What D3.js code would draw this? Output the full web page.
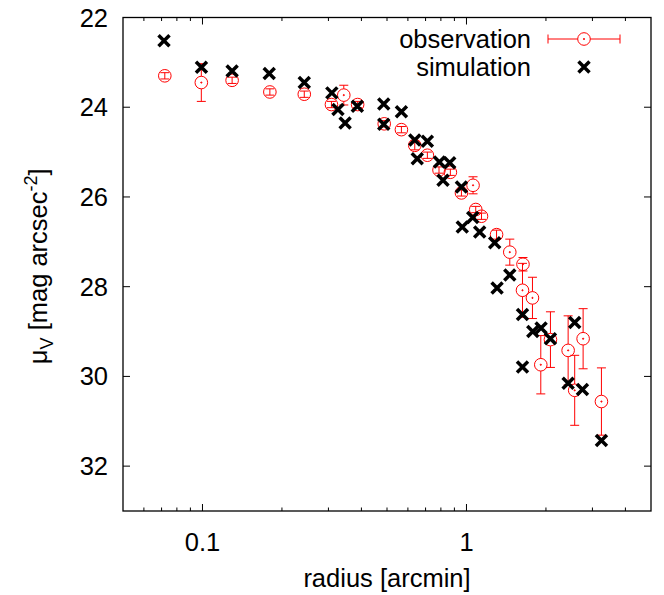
<!DOCTYPE html>
<html lang="en">
<head>
    <meta charset="UTF-8">
    <title>surface brightness profile</title>
    <script src="https://cdn.jsdelivr.net/npm/d3@7/dist/d3.min.js"></script>
    <style>
        body { margin: 0; background: #fff; }
        svg { font-family: "Liberation Sans", Arial, sans-serif; }
        .frame { fill: none; stroke: #000; stroke-width: 1.3px; }
        .tick { stroke: #000; stroke-width: 1px; }
        .label { font-size: 25.5px; fill: #000; }
    </style>
</head>
<body>
<script>
    // canvas size
    const width = 664;
    const height = 595;
    const margin = { left: 123, right: 13, top: 17.5, bottom: 84 };

    // observation: radius [arcmin], mu_V, error
    const obsRadius = [0.072, 0.099, 0.1295, 0.180, 0.243, 0.308, 0.343, 0.387, 0.488, 0.567,
        0.637, 0.711, 0.787, 0.869, 0.957, 1.059, 1.084, 1.14, 1.30, 1.459,
        1.637, 1.63, 1.778, 1.912, 2.08, 2.427, 2.57, 2.766, 3.245];
    const obsMu = [23.30, 23.45, 23.40, 23.66, 23.71, 23.94, 23.73, 23.94, 24.37, 24.50,
        24.85, 25.07, 25.40, 25.45, 25.91, 25.74, 26.28, 26.43, 26.84, 27.23,
        27.50, 28.08, 28.25, 29.74, 29.18, 29.42, 30.31, 29.16, 30.56];
    const obsErr = [0.07, 0.42, 0.07, 0.07, 0.07, 0.07, 0.22, 0.07, 0.07, 0.07,
        0.1, 0.07, 0.07, 0.07, 0.07, 0.19, 0.07, 0.07, 0.1, 0.29,
        0.15, 0.6, 0.46, 0.65, 0.62, 0.77, 0.78, 0.67, 0.75];

    // simulation
    const simRadius = [0.0715, 0.0991, 0.1295, 0.179, 0.243, 0.309, 0.326, 0.347, 0.386, 0.486,
        0.486, 0.567, 0.637, 0.651, 0.711, 0.790, 0.864, 0.815, 0.957, 0.964,
        1.056, 1.122, 1.279, 1.459, 1.306, 1.63, 1.783, 1.917, 2.08, 1.63,
        2.57, 2.427, 2.75, 3.245];
    const simMu = [22.52, 23.11, 23.19, 23.25, 23.45, 23.68, 24.05, 24.35, 23.98, 23.93,
        24.38, 24.10, 24.73, 25.15, 24.76, 25.22, 25.24, 25.63, 25.78, 26.67,
        26.46, 26.78, 27.02, 27.74, 28.03, 28.62, 29.00, 28.92, 29.16, 29.79,
        28.80, 30.15, 30.29, 31.43];

    const xMajor = [0.1, 1];
    const xMinor = [0.06, 0.07, 0.08, 0.09, 0.2, 0.3, 0.4, 0.5, 0.6, 0.7, 0.8, 0.9, 2, 3, 4];
    const yTicks = [22, 24, 26, 28, 30, 32];

    let svg = d3.select('body')
        .append('svg')
        .attr('width', width)
        .attr('height', height);

    const x0 = margin.left, x1 = width - margin.right;
    const y0 = margin.top, y1 = height - margin.bottom;

    const x = d3.scaleLog().domain([0.05, 5]).range([x0, x1]);
    const y = d3.scaleLinear().domain([22, 33]).range([y0, y1]);

    // frame
    svg.append('rect').attr('class', 'frame')
        .attr('x', x0).attr('y', y0)
        .attr('width', x1 - x0).attr('height', y1 - y0);

    // ticks on all four sides (inward)
    let ticks = svg.append('g');
    function xTick (v, len) {
        ticks.append('line').attr('class', 'tick')
            .attr('x1', x(v)).attr('x2', x(v)).attr('y1', y1).attr('y2', y1 - len);
        ticks.append('line').attr('class', 'tick')
            .attr('x1', x(v)).attr('x2', x(v)).attr('y1', y0).attr('y2', y0 + len);
    }
    xMajor.forEach(v => xTick(v, 7));
    xMinor.forEach(v => xTick(v, 3.5));
    yTicks.forEach(v => {
        ticks.append('line').attr('class', 'tick')
            .attr('x1', x0).attr('x2', x0 + 7).attr('y1', y(v)).attr('y2', y(v));
        ticks.append('line').attr('class', 'tick')
            .attr('x1', x1).attr('x2', x1 - 7).attr('y1', y(v)).attr('y2', y(v));
    });

    // tick labels
    svg.append('g').selectAll('text')
        .data(yTicks).enter().append('text')
        .attr('class', 'label')
        .attr('x', x0 - 15).attr('y', d => y(d) + 9)
        .attr('text-anchor', 'end')
        .text(d => d);
    svg.append('g').selectAll('text')
        .data(xMajor).enter().append('text')
        .attr('class', 'label')
        .attr('x', d => x(d)).attr('y', y1 + 40)
        .attr('text-anchor', 'middle')
        .text(d => d);

    // axis titles
    svg.append('text').attr('class', 'label')
        .attr('x', (x0 + x1) / 2).attr('y', 587)
        .attr('text-anchor', 'middle')
        .text('radius [arcmin]');

    let yl = svg.append('text').attr('class', 'label')
        .attr('transform', 'translate(47,' + ((y0 + y1) / 2 + 2) + ') rotate(-90)')
        .attr('text-anchor', 'middle');
    yl.append('tspan').text('\u03bc');
    yl.append('tspan').attr('font-size', '18px').attr('dy', 6).text('V');
    yl.append('tspan').attr('dy', -6).text(' [mag arcsec');
    yl.append('tspan').attr('font-size', '18px').attr('dy', -10).text('-2');
    yl.append('tspan').attr('dy', 10).text(']');

    const red = '#f00';
    const r = 6.3;
    const cap = 4.5;

    // error bars + circles
    const obs = obsRadius.map((d, i) => ({ r: d, mu: obsMu[i], err: obsErr[i] }));
    let eb = svg.append('g').attr('stroke', red).attr('stroke-width', 1).attr('fill', 'none');
    obs.forEach(d => {
        const cx = x(d.r), cy = y(d.mu);
        const top = y(d.mu - d.err), bot = y(d.mu + d.err);
        if (cy - top > r) {
            eb.append('line').attr('x1', cx).attr('x2', cx).attr('y1', top).attr('y2', cy - r);
            eb.append('line').attr('x1', cx).attr('x2', cx).attr('y1', cy + r).attr('y2', bot);
            eb.append('circle').attr('cx', cx).attr('cy', cy).attr('r', 0.6).attr('fill', red);
        } else {
            eb.append('line').attr('x1', cx).attr('x2', cx).attr('y1', top).attr('y2', bot);
        }
        eb.append('line').attr('x1', cx - cap).attr('x2', cx + cap).attr('y1', top).attr('y2', top);
        eb.append('line').attr('x1', cx - cap).attr('x2', cx + cap).attr('y1', bot).attr('y2', bot);
        eb.append('circle').attr('cx', cx).attr('cy', cy).attr('r', r);
    });

    // simulation crosses
    const s = 5.5;
    function cross (g, cx, cy) {
        g.append('path')
            .attr('d', 'M' + (cx - s) + ',' + (cy - s) + 'L' + (cx + s) + ',' + (cy + s) +
                'M' + (cx - s) + ',' + (cy + s) + 'L' + (cx + s) + ',' + (cy - s));
    }
    let sim = svg.append('g').attr('stroke', '#000').attr('stroke-width', 3.5).attr('fill', 'none');
    simRadius.forEach((d, i) => cross(sim, x(d), y(simMu[i])));

    // legend
    let lg = svg.append('g');
    lg.append('text').attr('class', 'label').attr('x', 531).attr('y', 48)
        .attr('text-anchor', 'end').text('observation');
    lg.append('text').attr('class', 'label').attr('x', 531).attr('y', 76)
        .attr('text-anchor', 'end').text('simulation');
    let le = lg.append('g').attr('stroke', red).attr('stroke-width', 1).attr('fill', 'none');
    le.append('line').attr('x1', 548).attr('x2', 584 - r).attr('y1', 39).attr('y2', 39);
    le.append('line').attr('x1', 584 + r).attr('x2', 620).attr('y1', 39).attr('y2', 39);
    le.append('line').attr('x1', 548).attr('x2', 548).attr('y1', 39 - cap).attr('y2', 39 + cap);
    le.append('line').attr('x1', 620).attr('x2', 620).attr('y1', 39 - cap).attr('y2', 39 + cap);
    le.append('circle').attr('cx', 584).attr('cy', 39).attr('r', r);
    le.append('circle').attr('cx', 584).attr('cy', 39).attr('r', 0.6).attr('fill', red);
    let lx = lg.append('g').attr('stroke', '#000').attr('stroke-width', 3.5);
    cross(lx, 584, 67);
</script>
</body>
</html>
